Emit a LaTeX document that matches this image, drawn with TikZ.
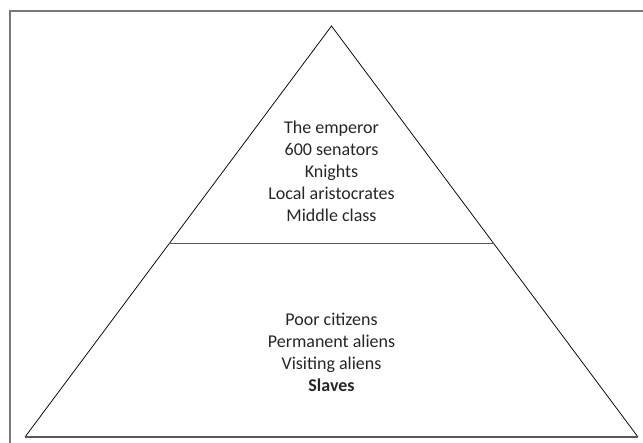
\documentclass[tikz,border=0pt]{standalone}
\usepackage{fontspec}
\setmainfont{Carlito}
\usepackage{xcolor}
\usetikzlibrary{calc}
\definecolor{frameGray}{RGB}{120,120,120}
\definecolor{baseGray}{RGB}{90,90,90}

\begin{document}
\begin{tikzpicture}[x=1pt,y=1pt,
  rankText/.style={align=center,inner sep=0pt,text=black!85,font=\fontsize{18}{22}\selectfont}]
\useasboundingbox (0,0) rectangle (643,443);
% open frame (top and left only)
\draw[frameGray,line width=1.3pt] (643,432) -- (10,432) -- (10,0);
% pyramid
\coordinate (apex) at (331.5,417);
\coordinate (baseL) at (25,6);
\coordinate (baseR) at (638,6);
\coordinate (midL) at ($(baseL)!0.47!(apex)$);
\coordinate (midR) at ($(baseR)!0.47!(apex)$);
\draw[line width=0.75pt] (baseL) -- (apex) -- (baseR);
\draw[baseGray,line width=1.3pt] (baseL) -- (baseR);
\draw[baseGray,line width=1.3pt] (midL) -- (midR);
\node[rankText] (upperRanks) at (331.5,272) {The emperor\\600 senators\\Knights\\Local aristocrates\\Middle class};
\node[rankText] (lowerRanks) at (331.5,91) {Poor citizens\\Permanent aliens\\Visiting aliens\\\textbf{Slaves}};
\end{tikzpicture}
\end{document}
